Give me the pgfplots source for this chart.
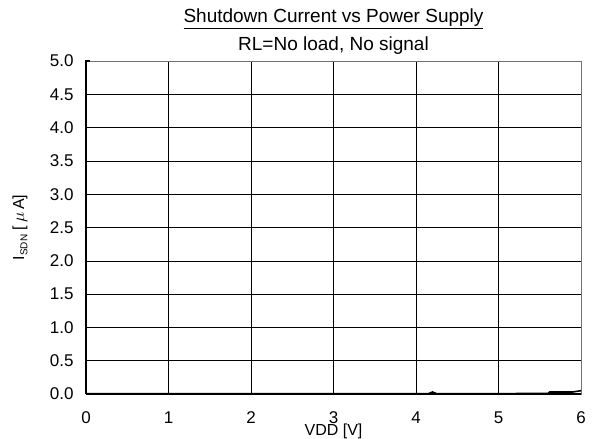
\documentclass[border=0pt]{standalone}
\usepackage{pgfplots}
\pgfplotsset{compat=1.18}
\usepackage{fontspec}
\setmainfont{Liberation Sans}
\begin{document}
\begin{tikzpicture}
\begin{axis}[
  scale only axis,
  width=495pt, height=333pt,
  xmin=0, xmax=6, ymin=0, ymax=5,
  xtick={0,1,2,3,4,5,6},
  ytick={0,0.5,...,5},
  yticklabel style={/pgf/number format/fixed,/pgf/number format/fixed zerofill,/pgf/number format/precision=1, xshift=-9pt},
  /pgf/number format/assume math mode=true,
  tick label style={font=\fontsize{17}{19}\selectfont},
  xticklabel style={yshift=-14pt},
  grid=major,
  major grid style={black, line width=0.6pt},
  axis line style={draw=black!55, line width=0.8pt},
  tick style={draw=none},
  clip=false,
]
\addplot[black, line width=1.6pt] coordinates {
  (0,0.005) (1,0.005) (2,0.005) (3,0.005) (4,0.005) (4.15,0.005) (4.2,0.03) (4.25,0.005) (5,0.005) (5.6,0.01) (5.62,0.03) (5.9,0.03) (6,0.05)
};
\draw[black, line width=1.6pt] (axis cs:0,0) -- (axis cs:0,5) -- ++(4pt,0);
\draw[black, line width=1.6pt] (axis cs:0,0) -- (axis cs:6,0);
\node[font=\fontsize{16}{18}\selectfont, rotate=90] at ([xshift=-66pt]axis description cs:0,0.5) {I\raisebox{-0.4ex}{\fontsize{10}{11}\selectfont SDN} [$\,\mu\,$A]};
\node[font=\fontsize{16}{18}\selectfont] at ([yshift=-37pt]axis description cs:0.5,0) {VDD [V]};
\node[font=\fontsize{19}{21}\selectfont] at ([yshift=42pt]axis description cs:0.5,1) {\underline{Shutdown Current vs Power Supply}};
\node[font=\fontsize{19}{21}\selectfont] at ([yshift=15pt]axis description cs:0.5,1) {RL=No load, No signal};
\end{axis}
\pgfresetboundingbox
\path[use as bounding box] (-86pt,-45pt) rectangle (511pt,394pt);
\end{tikzpicture}
\end{document}
